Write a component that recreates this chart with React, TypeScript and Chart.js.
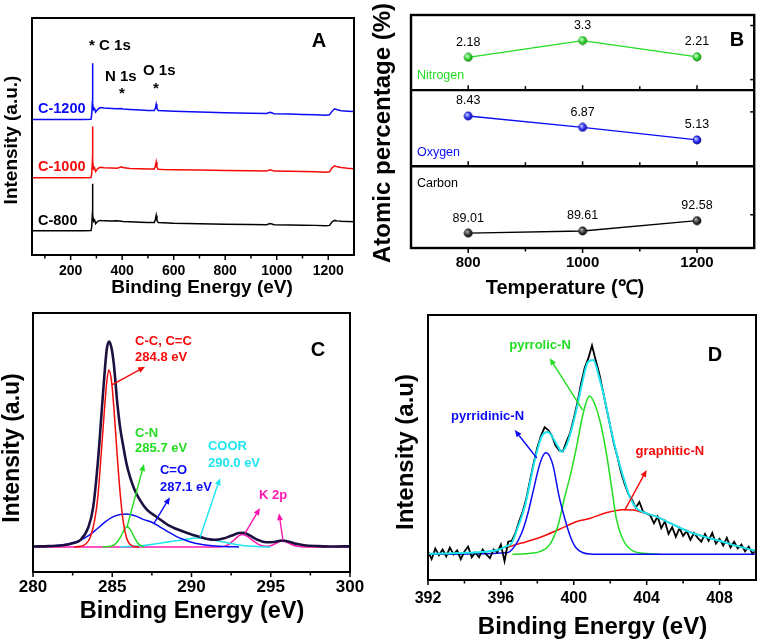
import React, { useEffect, useRef } from 'react';
import { Chart, registerables } from 'chart.js';

Chart.register(...registerables);
const FAMILY = '"Liberation Sans", Arial, Helvetica, sans-serif';
Chart.defaults.font.family = FAMILY;
Chart.defaults.color = '#000';

// ================= Panel A : survey spectra =================
const A_ENERGY = [50, 150, 250, 279, 282, 284.5, 285, 286, 289, 293, 297, 305, 315, 330, 360, 380, 398, 402, 430, 470, 500, 525, 529, 532, 535, 540, 560, 600, 700, 800, 900, 960, 975, 990, 1050, 1100, 1150, 1190, 1205, 1215, 1225, 1235, 1250, 1275, 1300];
const A_C1200 = [57.2, 57.2, 57.2, 57.3, 59.5, 65, 80.9, 64, 61.3, 61.8, 60.3, 61.5, 62.2, 62, 61.8, 61.7, 61.8, 61.6, 61.4, 61.2, 61, 61, 62, 63.6, 61.8, 61, 60.9, 60.7, 60.3, 60, 59.8, 59.7, 60.2, 59.6, 59.5, 59.3, 59.2, 59.0, 59.2, 60.7, 61.7, 61.3, 60.9, 60.7, 60.5];
const A_C1000 = [32.6, 32.6, 32.6, 32.7, 34.5, 40, 54.2, 39.5, 36.3, 36.8, 35.2, 36.5, 37, 36.8, 36.7, 36.6, 37.2, 36.9, 36.5, 36.4, 36.3, 36.3, 37.5, 39.2, 37, 36.2, 36.1, 36, 35.9, 35.7, 35.5, 35.4, 36, 35.4, 35.3, 35.2, 35.1, 34.9, 35.1, 36.8, 37.6, 37.2, 36.9, 36.6, 36.4];
const A_C800 = [10.2, 10.2, 10.2, 10.3, 12, 18, 30.1, 17, 14.2, 14.8, 13.2, 14.2, 14.6, 14.4, 14.3, 14.5, 14.2, 14.1, 14, 13.8, 13.7, 13.7, 15, 16.7, 14.6, 13.7, 13.6, 13.4, 13.2, 13, 12.9, 12.8, 13.3, 12.8, 12.7, 12.6, 12.5, 12.3, 12.5, 14, 14.6, 14.4, 14.2, 14.1, 14];
const A_XTICKS = [200, 400, 600, 800, 1000, 1200];
const A_XMINOR = [100, 300, 500, 700, 900, 1100];

// ================= Panel B : atomic percentage =================
const B_TEMPS = [800, 1000, 1200];
const B_NITROGEN = [2.18, 3.3, 2.21];
const B_OXYGEN = [8.43, 6.87, 5.13];
const B_CARBON = [89.01, 89.61, 92.58];
const B_XTICKS = [800, 1000, 1200];
const B_XMINOR = [900, 1100];
const B_RIGHT_N = [0.7, 4.3];
const B_RIGHT_O = [9];
const B_RIGHT_C = [94.3];

// ================= Panel C : C 1s =================
const C_ENV_EV = [280.0, 281.0, 281.9, 282.5, 283.0, 283.5, 283.8, 284.1, 284.45, 284.65, 284.8, 284.95, 285.1, 285.32, 285.5, 285.7, 285.9, 286.12, 286.4, 286.75, 287.2, 287.8, 288.5, 289.27, 290.0, 290.5, 291.0, 291.5, 292.0, 292.5, 293.0, 293.3, 293.7, 294.2, 294.7, 295.2, 295.7, 296.1, 296.6, 297.1, 298, 299, 300];
const C_ENV = [0.2, 0.4, 0.8, 1.8, 3.4, 9.8, 19.5, 42, 78, 96, 100, 97, 89, 70, 58, 48.8, 40.5, 34.1, 28, 22.8, 18, 14.6, 10.8, 8.1, 6.1, 5.0, 3.9, 3.5, 4.1, 5.4, 6.8, 6.9, 5.5, 3.4, 2.3, 2.4, 3.1, 2.7, 1.5, 0.8, 0.4, 0.2, 0.3];
const C_CC_EV = [282.6, 283.0, 283.3, 283.6, 283.9, 284.1, 284.3, 284.5, 284.65, 284.78, 284.95, 285.1, 285.3, 285.5, 285.7, 285.9, 286.1, 286.4, 286.7];
const C_CC = [0, 0.3, 1.3, 4.5, 13.5, 25, 45, 66, 80, 86.2, 81, 68, 46, 26, 12, 4.5, 1.4, 0.2, 0];
const C_CN_EV = [284.4, 284.9, 285.2, 285.5, 285.75, 285.95, 286.15, 286.4, 286.65, 286.9, 287.0];
const C_CN = [0, 0.3, 1.5, 4.5, 8.3, 9.8, 8.3, 4.5, 1.5, 0.3, 0];
const C_CO_EV = [280.5, 281, 282, 282.5, 283, 283.5, 284, 284.5, 285, 285.5, 285.9, 286.5, 287, 287.5, 288, 288.5, 289, 289.5, 290, 290.5, 291, 292, 293];
const C_CO = [0.2, 0.4, 1.2, 2, 3.3, 5.5, 8.5, 11.8, 14.5, 15.8, 16, 15, 13.3, 12, 9.8, 7.5, 5.3, 3.6, 2.3, 1.4, 0.8, 0.2, 0];
const C_COOR_EV = [285.5, 286, 287, 287.8, 288.5, 289.3, 290.0, 290.35, 291, 291.7, 292.4, 293, 293.6, 294.3, 295];
const C_COOR = [0, 0.2, 0.7, 1.5, 2.4, 3.3, 4.1, 4.4, 3.9, 2.9, 1.8, 1, 0.4, 0.1, 0];
const C_K2P_EV = [280, 291.8, 292.3, 292.7, 293.0, 293.2, 293.5, 293.9, 294.3, 294.7, 295.0, 295.3, 295.65, 295.9, 296.3, 296.7, 297.2, 300];
const C_K2P = [0, 0, 1, 3.5, 5.5, 6.1, 5.3, 3, 1, 0.3, 0.6, 1.6, 2.8, 2.6, 1.2, 0.3, 0, 0];
const C_XTICKS = [280, 285, 290, 295, 300];
const C_XMINOR = [282.5, 287.5, 292.5, 297.5];

// ================= Panel D : N 1s =================
const D_RAW_EV = [392.0, 392.2, 392.4, 392.6, 392.8, 393.0, 393.2, 393.4, 393.6, 393.8, 394.0, 394.2, 394.4, 394.6, 394.8, 395.0, 395.2, 395.4, 395.6, 395.8, 396.0, 396.2, 396.4, 396.6, 396.8, 397.0, 397.2, 397.4, 397.6, 397.8, 398.0, 398.2, 398.4, 398.6, 398.8, 399.0, 399.2, 399.4, 399.6, 399.8, 400.0, 400.2, 400.4, 400.6, 400.8, 401.0, 401.2, 401.4, 401.6, 401.8, 402.0, 402.2, 402.4, 402.6, 402.8, 403.0, 403.2, 403.4, 403.6, 403.8, 404.0, 404.2, 404.4, 404.6, 404.8, 405.0, 405.2, 405.4, 405.6, 405.8, 406.0, 406.2, 406.4, 406.6, 406.8, 407.0, 407.2, 407.4, 407.6, 407.8, 408.0, 408.2, 408.4, 408.6, 408.8, 409.0, 409.2, 409.4, 409.6, 409.8, 410.0];
const D_RAW = [1.5, -2.5, 3, -0.5, 2.5, -1, 3.5, 0, 2, -2.5, 1.5, 4, -1.5, 1, -1.5, 2.5, 0, -2, 2.5, 1, 5, -3.5, 6.5, 7, 11, 17, 22, 29, 38, 47, 55, 61, 65.5, 64, 61, 56, 53.5, 53, 58, 62.5, 70, 78, 88, 96, 101, 107.5, 100, 93, 84, 75, 66, 57, 50, 42, 36, 31, 28, 24, 27, 22, 21, 20, 16, 19.5, 13.5, 17, 10.5, 14, 9, 13.5, 9.5, 12, 7.5, 11, 8.5, 6.5, 10.5, 7, 11, 5.5, 8, 4.5, 8.5, 3.5, 6.5, 3, 5, 1.5, 4, 0.5, 2];
const D_FIT_EV = [392.0, 393.06, 394.08, 395.1, 395.92, 396.33, 396.59, 396.94, 397.31, 397.6, 397.86, 398.23, 398.57, 398.88, 399.14, 399.32, 399.59, 399.87, 400.16, 400.41, 400.78, 401.07, 401.43, 401.74, 401.97, 402.35, 402.71, 403.07, 403.45, 403.99, 404.54, 405.31, 406.33, 407.35, 408.17, 408.88, 409.8, 410];
const D_FIT = [0.3, 0.5, 0.8, 1.3, 2.5, 4.3, 5.7, 14.2, 24.5, 37, 48.5, 60.5, 63, 59.5, 55.4, 52.8, 56, 64, 75, 86, 99, 100, 89.7, 78, 67.4, 52, 40, 29.6, 23.7, 21.1, 19.4, 16, 11.6, 8.6, 6.5, 4.5, 2.2, 1.8];
const D_PYRIDINIC_EV = [392, 396.33, 396.74, 397.14, 397.45, 397.76, 398.06, 398.27, 398.47, 398.68, 398.88, 399.19, 399.49, 399.8, 400.11, 400.51, 401.02, 401.5, 410];
const D_PYRIDINIC = [0, 0.8, 4, 11, 20, 32, 44, 50, 52.3, 50.5, 45, 30, 19, 9.5, 3.5, 0.8, 0.1, 0, 0];
const D_PYRROLIC_EV = [396.63, 397.66, 398.17, 398.68, 399.14, 399.49, 399.87, 400.21, 400.41, 400.67, 400.87, 401.12, 401.43, 401.79, 402.07, 402.35, 402.71, 403.27, 404.19, 404.71];
const D_PYRROLIC = [0, 0.6, 1.5, 5, 15, 29, 43, 58, 68, 78, 81.5, 78, 69, 52, 35, 17.7, 7.4, 1.7, 0.3, 0];
const D_GRAPHITIC_EV = [396.23, 397.14, 398.17, 399.19, 400.21, 400.88, 401.74, 402.71, 403.27, 403.79, 404.54, 405.31, 406.33, 407.35, 408.17, 408.88, 409.8, 410];
const D_GRAPHITIC = [3.4, 5.8, 8.8, 12.8, 17, 18.5, 21.3, 23, 22.8, 21.5, 19.4, 16, 11.6, 8.6, 6.5, 4.5, 2.2, 1.8];
const D_XTICKS = [392, 396, 400, 404, 408];
const D_XMINOR = [394, 398, 402, 406];

// ================= colours =================
const BLUE = '#0b0bf5';
const RED = '#f50a0a';
const GREEN = '#22dd22';
const CYAN = '#1ee6f0';
const MAGENTA = '#ff18b0';

// ================= helpers =================
const pts = (xs: number[], ys: number[]) => xs.map((x, i) => ({ x, y: ys[i] }));
const font = (size: number, bold = true) => `${bold ? 'bold ' : ''}${size}px ${FAMILY}`;

function line(xs: number[], ys: number[], color: string, width: number, smooth: boolean, order: number, extra: any = {}) {
  return {
    data: pts(xs, ys),
    borderColor: color,
    backgroundColor: color,
    borderWidth: width,
    pointRadius: 0,
    tension: 0,
    cubicInterpolationMode: smooth ? 'monotone' : 'default',
    fill: false,
    order,
    ...extra,
  };
}

function xScale(min: number, max: number, ticks: number[], size: number, padding: number, height: number) {
  return {
    type: 'linear', min, max,
    afterBuildTicks: (s: any) => { s.ticks = ticks.map((v) => ({ value: v })); },
    ticks: { font: { size, weight: 'bold' }, color: '#000', padding, maxRotation: 0, autoSkip: false, callback: (v: any) => String(v) },
    grid: { display: false, drawTicks: false },
    border: { display: false },
    afterFit: (s: any) => { s.height = height; },
  };
}

function yScale(min: number, max: number, width: number, extra: any = {}) {
  return {
    type: 'linear', min, max, position: 'left',
    ticks: { display: false },
    grid: { display: false, drawTicks: false },
    border: { display: false },
    afterFit: (s: any) => { s.width = width; },
    ...extra,
  };
}

function baseOptions(padding: any, scales: any) {
  return {
    animation: false,
    responsive: false,
    maintainAspectRatio: false,
    devicePixelRatio: 1,
    events: [],
    layout: { padding },
    plugins: { legend: { display: false }, tooltip: { enabled: false } },
    scales,
  };
}

type FrameCfg = { lw: number; major: number[]; minor: number[]; dividers?: string[]; right?: { axis: string; values: number[] }[] };
function framePlugin(cfg: FrameCfg) {
  return {
    id: 'frame',
    afterDatasetsDraw(chart: any) {
      const { ctx, chartArea: ca } = chart;
      const xs = chart.scales.x;
      ctx.save();
      ctx.strokeStyle = '#000';
      ctx.lineWidth = 1.5;
      const tick = (px: number, y0: number, len: number) => {
        ctx.beginPath(); ctx.moveTo(px, y0); ctx.lineTo(px, y0 + len); ctx.stroke();
      };
      cfg.major.forEach((v) => tick(xs.getPixelForValue(v), ca.bottom, 5));
      cfg.minor.forEach((v) => tick(xs.getPixelForValue(v), ca.bottom, 3.5));
      (cfg.dividers || []).forEach((id) => {
        const y = chart.scales[id].top;
        ctx.lineWidth = cfg.lw;
        ctx.beginPath(); ctx.moveTo(ca.left, y); ctx.lineTo(ca.right, y); ctx.stroke();
        ctx.lineWidth = 1.5;
        cfg.major.forEach((v) => tick(xs.getPixelForValue(v), y, -5));
        cfg.minor.forEach((v) => tick(xs.getPixelForValue(v), y, -4));
      });
      (cfg.right || []).forEach((r) => {
        const s = chart.scales[r.axis];
        r.values.forEach((v) => {
          const py = s.getPixelForValue(v);
          ctx.beginPath(); ctx.moveTo(ca.right, py); ctx.lineTo(ca.right - 4, py); ctx.stroke();
        });
      });
      ctx.lineWidth = cfg.lw;
      ctx.strokeRect(ca.left, ca.top, ca.right - ca.left, ca.bottom - ca.top);
      ctx.restore();
    },
  };
}

type Note = { x: number; y: number; text: string; color: string; size: number; bold?: boolean; align?: CanvasTextAlign; axis?: string };
type Arrow = { x1: number; y1: number; x2: number; y2: number; color: string; axis?: string };
type Title = { px: number; py: number; text: string; size: number; rotate?: boolean; color?: string };

function notesPlugin(notes: Note[], arrows: Arrow[], titles: Title[]) {
  return {
    id: 'notes',
    afterDraw(chart: any) {
      const ctx = chart.ctx;
      const xs = chart.scales.x;
      ctx.save();
      arrows.forEach((a) => {
        const ys = chart.scales[a.axis || 'y'];
        const x1 = xs.getPixelForValue(a.x1), y1 = ys.getPixelForValue(a.y1);
        const x2 = xs.getPixelForValue(a.x2), y2 = ys.getPixelForValue(a.y2);
        const ang = Math.atan2(y2 - y1, x2 - x1);
        const L = 7, W = 3;
        const bx = x2 - L * Math.cos(ang), by = y2 - L * Math.sin(ang);
        ctx.strokeStyle = a.color; ctx.fillStyle = a.color; ctx.lineWidth = 1.4;
        ctx.beginPath(); ctx.moveTo(x1, y1); ctx.lineTo(bx, by); ctx.stroke();
        ctx.beginPath();
        ctx.moveTo(x2, y2);
        ctx.lineTo(bx + W * Math.sin(ang), by - W * Math.cos(ang));
        ctx.lineTo(bx - W * Math.sin(ang), by + W * Math.cos(ang));
        ctx.closePath(); ctx.fill();
      });
      ctx.textBaseline = 'middle';
      notes.forEach((n) => {
        const ys = chart.scales[n.axis || 'y'];
        ctx.font = font(n.size, n.bold !== false);
        ctx.fillStyle = n.color;
        ctx.textAlign = n.align || 'left';
        ctx.fillText(n.text, xs.getPixelForValue(n.x), ys.getPixelForValue(n.y));
      });
      titles.forEach((t) => {
        ctx.save();
        ctx.font = font(t.size, true);
        ctx.fillStyle = t.color || '#000';
        ctx.textAlign = 'center';
        ctx.translate(t.px, t.py);
        if (t.rotate) ctx.rotate(-Math.PI / 2);
        ctx.fillText(t.text, 0, 0);
        ctx.restore();
      });
      ctx.restore();
    },
  };
}

function valueLabelsPlugin() {
  return {
    id: 'valueLabels',
    afterDatasetsDraw(chart: any) {
      const ctx = chart.ctx;
      ctx.save();
      ctx.font = font(12.5, false);
      ctx.fillStyle = '#000';
      ctx.textAlign = 'center';
      ctx.textBaseline = 'middle';
      chart.data.datasets.forEach((ds: any, i: number) => {
        chart.getDatasetMeta(i).data.forEach((el: any, j: number) => {
          ctx.fillText(String(ds.data[j].y), el.x, el.y - 15);
        });
      });
      ctx.restore();
    },
  };
}

function sphere(light: string, base: string, dark: string) {
  const c = document.createElement('canvas');
  c.width = 10; c.height = 10;
  const g = c.getContext('2d')!;
  const grad = g.createRadialGradient(3.6, 3.4, 0.4, 5, 5, 4.8);
  grad.addColorStop(0, light);
  grad.addColorStop(0.55, base);
  grad.addColorStop(1, dark);
  g.fillStyle = grad;
  g.beginPath(); g.arc(5, 5, 4.4, 0, Math.PI * 2); g.fill();
  return c;
}

// ================= chart configs =================
function configA(): any {
  return {
    type: 'line',
    data: {
      datasets: [
        line(A_ENERGY, A_C1200, BLUE, 1.5, false, 0),
        line(A_ENERGY, A_C1000, RED, 1.5, false, 1),
        line(A_ENERGY, A_C800, '#000', 1.5, false, 2),
      ],
    },
    options: baseOptions({ left: 0, top: 18, right: 26, bottom: 0 }, {
      x: xScale(50, 1300, A_XTICKS, 14, 8, 55),
      y: yScale(0, 100, 32),
    }),
    plugins: [
      framePlugin({ lw: 2, major: A_XTICKS, minor: A_XMINOR }),
      notesPlugin([
        { x: 73.3, y: 61.4, text: 'C-1200', color: BLUE, size: 14.5 },
        { x: 73.3, y: 37.3, text: 'C-1000', color: RED, size: 14.5 },
        { x: 73.3, y: 14.4, text: 'C-800', color: '#000', size: 14.5 },
        { x: 271.4, y: 88.1, text: '* C 1s', color: '#000', size: 15 },
        { x: 333.5, y: 75, text: 'N 1s', color: '#000', size: 15 },
        { x: 399.5, y: 67.8, text: '*', color: '#000', size: 15, align: 'center' },
        { x: 481, y: 77.5, text: 'O 1s', color: '#000', size: 15 },
        { x: 531.5, y: 69.9, text: '*', color: '#000', size: 15, align: 'center' },
      ], [], [
        { px: 319, py: 41, text: 'A', size: 20 },
        { px: 202, py: 288, text: 'Binding Energy (eV)', size: 19 },
        { px: 12, py: 140, text: 'Intensity (a.u.)', size: 19, rotate: true },
      ]),
    ],
  };
}

function configB(): any {
  const sN = sphere('#d8ffd8', '#2fd42f', '#0f700f');
  const sO = sphere('#c8ccff', '#2a2aee', '#0a0a80');
  const sC = sphere('#b0b0b0', '#333333', '#000000');
  const ds = (ys: number[], axis: string, color: string, style: any, order: number) => ({
    data: pts(B_TEMPS, ys), yAxisID: axis, borderColor: color, backgroundColor: color,
    borderWidth: 1.3, pointRadius: 4.5, pointStyle: style, tension: 0, fill: false, order,
  });
  return {
    type: 'line',
    data: {
      datasets: [
        ds(B_NITROGEN, 'yN', GREEN, sN, 0),
        ds(B_OXYGEN, 'yO', BLUE, sO, 1),
        ds(B_CARBON, 'yC', '#000', sC, 2),
      ],
    },
    options: baseOptions({ left: 0, top: 15, right: 3, bottom: 0 }, {
      x: xScale(700, 1300, B_XTICKS, 15, 6, 62),
      yN: yScale(0, 5, 55, { stack: 'atoms', stackWeight: 75, weight: 3 }),
      yO: yScale(1.5, 12, 55, { stack: 'atoms', stackWeight: 76, weight: 2 }),
      yC: yScale(84.7, 108.3, 55, { stack: 'atoms', stackWeight: 81.6, weight: 1 }),
    }),
    plugins: [
      framePlugin({
        lw: 2.4, major: B_XTICKS, minor: B_XMINOR, dividers: ['yO', 'yC'],
        right: [{ axis: 'yN', values: B_RIGHT_N }, { axis: 'yO', values: B_RIGHT_O }, { axis: 'yC', values: B_RIGHT_C }],
      }),
      valueLabelsPlugin(),
      notesPlugin([
        { x: 710.4, y: 1.0, axis: 'yN', text: 'Nitrogen', color: GREEN, size: 12.5, bold: false },
        { x: 710.4, y: 3.39, axis: 'yO', text: 'Oxygen', color: BLUE, size: 12.5, bold: false },
        { x: 710.4, y: 103.3, axis: 'yC', text: 'Carbon', color: '#000', size: 12.5, bold: false },
      ], [], [
        { px: 381, py: 40, text: 'B', size: 20 },
        { px: 209, py: 288, text: 'Temperature (℃)', size: 20 },
        { px: 27, py: 133, text: 'Atomic percentage (%)', size: 24, rotate: true },
      ]),
    ],
  };
}

function configC(): any {
  return {
    type: 'line',
    data: {
      datasets: [
        line(C_ENV_EV, C_ENV, '#1d1040', 2.6, true, 0),
        line(C_CC_EV, C_CC, RED, 1.5, true, 1),
        line(C_CN_EV, C_CN, GREEN, 1.5, true, 2),
        line(C_CO_EV, C_CO, BLUE, 1.5, true, 3),
        line(C_COOR_EV, C_COOR, CYAN, 1.5, true, 4),
        line(C_K2P_EV, C_K2P, MAGENTA, 1.5, true, 5),
      ],
    },
    options: baseOptions({ left: 0, top: 3, right: 30, bottom: 0 }, {
      x: xScale(280, 300, C_XTICKS, 17, 5, 68),
      y: yScale(-12.2, 113.9, 33),
    }),
    plugins: [
      framePlugin({ lw: 2, major: C_XTICKS, minor: C_XMINOR }),
      notesPlugin([
        { x: 286.44, y: 100, text: 'C-C, C=C', color: RED, size: 13 },
        { x: 286.44, y: 92.2, text: '284.8 eV', color: RED, size: 13 },
        { x: 286.44, y: 55.3, text: 'C-N', color: GREEN, size: 13 },
        { x: 286.44, y: 48, text: '285.7 eV', color: GREEN, size: 13 },
        { x: 288.01, y: 37.4, text: 'C=O', color: BLUE, size: 13 },
        { x: 288.01, y: 29.1, text: '287.1 eV', color: BLUE, size: 13 },
        { x: 291.04, y: 48.7, text: 'COOR', color: CYAN, size: 13 },
        { x: 291.04, y: 40.7, text: '290.0 eV', color: CYAN, size: 13 },
        { x: 294.26, y: 25.2, text: 'K 2p', color: MAGENTA, size: 13 },
      ], [
        { x1: 284.98, y1: 78.9, x2: 287.07, y2: 87.7, color: RED },
        { x1: 285.93, y1: 9.6, x2: 287.0, y2: 40.4, color: GREEN },
        { x1: 287.63, y1: 11.5, x2: 288.64, y2: 24.2, color: BLUE },
        { x1: 290.54, y1: 4.7, x2: 291.8, y2: 33.5, color: CYAN },
        { x1: 293.38, y1: 6.7, x2: 294.32, y2: 18.9, color: MAGENTA },
        { x1: 295.77, y1: 3.3, x2: 295.52, y2: 16.4, color: MAGENTA },
      ], [
        { px: 318, py: 40, text: 'C', size: 20 },
        { px: 192, py: 302, text: 'Binding Energy (eV)', size: 23.5 },
        { px: 13, py: 138, text: 'Intensity (a.u)', size: 23, rotate: true },
      ]),
    ],
  };
}

function configD(): any {
  return {
    type: 'line',
    data: {
      datasets: [
        line(D_FIT_EV, D_FIT, CYAN, 2, true, 0),
        line(D_RAW_EV, D_RAW, '#000', 1.8, false, 1),
        line(D_PYRIDINIC_EV, D_PYRIDINIC, BLUE, 1.5, true, 2),
        line(D_PYRROLIC_EV, D_PYRROLIC, GREEN, 1.5, true, 3),
        line(D_GRAPHITIC_EV, D_GRAPHITIC, RED, 1.5, true, 4),
      ],
    },
    options: baseOptions({ left: 0, top: 5, right: 4, bottom: 0 }, {
      x: xScale(392, 410, D_XTICKS, 16, 9, 60),
      y: yScale(-13.2, 123.2, 48),
    }),
    plugins: [
      framePlugin({ lw: 2, major: D_XTICKS, minor: D_XMINOR }),
      notesPlugin([
        { x: 398.15, y: 107.7, text: 'pyrrolic-N', color: GREEN, size: 13, align: 'center' },
        { x: 395.27, y: 71.1, text: 'pyrridinic-N', color: BLUE, size: 13, align: 'center' },
        { x: 405.27, y: 52.8, text: 'graphitic-N', color: RED, size: 13, align: 'center' },
      ], [
        { x1: 400.49, y1: 74.3, x2: 398.68, y2: 101, color: GREEN },
        { x1: 397.97, y1: 49.6, x2: 396.76, y2: 64, color: BLUE },
        { x1: 402.8, y1: 22.8, x2: 404.0, y2: 43.4, color: RED },
      ], [
        { px: 335, py: 45, text: 'D', size: 20 },
        { px: 212.5, py: 317, text: 'Binding Energy (eV)', size: 24 },
        { px: 26, py: 142, text: 'Intensity (a.u)', size: 24, rotate: true },
      ]),
    ],
  };
}

function Panel({ left, top, width, height, make }: { left: number; top: number; width: number; height: number; make: () => any }) {
  const ref = useRef<HTMLCanvasElement>(null);
  useEffect(() => {
    const chart = new Chart(ref.current as HTMLCanvasElement, make());
    return () => chart.destroy();
  }, [make]);
  return <canvas ref={ref} width={width} height={height} style={{ position: 'absolute', left, top, width, height }} />;
}

export default function App() {
  return (
    <div style={{ position: 'fixed', left: 0, top: 0, width: 760, height: 640, background: '#fff', overflow: 'hidden' }}>
      <Panel left={0} top={0} width={380} height={310} make={configA} />
      <Panel left={356} top={0} width={404} height={310} make={configB} />
      <Panel left={0} top={310} width={380} height={330} make={configC} />
      <Panel left={380} top={310} width={380} height={330} make={configD} />
    </div>
  );
}
